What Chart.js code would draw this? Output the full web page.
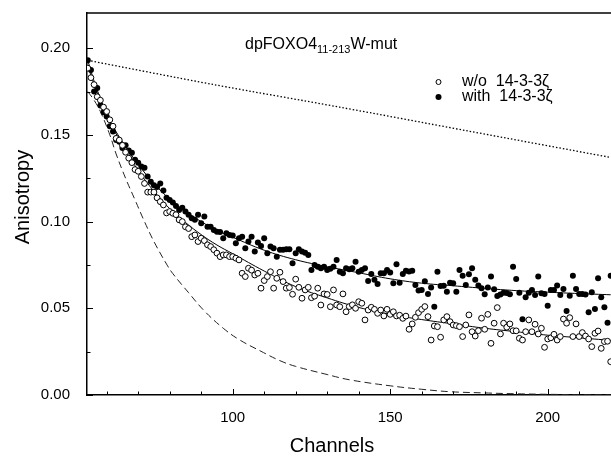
<!DOCTYPE html>
<html>
<head>
<meta charset="utf-8">
<title>dpFOXO4 anisotropy decay</title>
<script src="https://cdn.jsdelivr.net/npm/chart.js@4.4.1/dist/chart.umd.min.js"></script>
<style>
    html, body { margin: 0; padding: 0; background: #fff; }
</style>
</head>
<body>
<canvas id="anisotropy-chart" width="611" height="457"></canvas>
<script>
// Channel of the first measured point, one point per channel after it
const firstChannel = 54;

// w/o 14-3-3zeta (open circles), channels 54..220
const withoutValues = [
    0.1885, 0.183, 0.179, 0.172, 0.170, 0.166, 0.1635, 0.1587, 0.155, 0.148,
    0.147, 0.144, 0.140, 0.1366, 0.134, 0.130, 0.129, 0.126, 0.122, 0.117,
    0.117, 0.117, 0.1137, 0.1115, 0.1096, 0.105, 0.1058, 0.1048, 0.104, 0.101,
    0.100, 0.097, 0.096, 0.0913, 0.0923, 0.0885, 0.0904, 0.089, 0.0866, 0.0856,
    0.0838, 0.0818, 0.0798, 0.0808, 0.0808, 0.0798, 0.0798, 0.0789, 0.0779, 0.0702,
    0.0683, 0.0731, 0.072, 0.0692, 0.0702, 0.0616, 0.066, 0.0683, 0.0711, 0.0616,
    0.0673, 0.0708, 0.0654, 0.0616, 0.062, 0.0581, 0.0668, 0.0621, 0.0558, 0.0606,
    0.0621, 0.0561, 0.057, 0.0616, 0.0519, 0.0583, 0.058, 0.0509, 0.0606, 0.0519,
    0.0509, 0.0583, 0.048, 0.051, 0.052, 0.050, 0.0538, 0.0529, 0.0433, 0.049,
    0.0506, 0.0494, 0.0471, 0.049, 0.0456, 0.0494, 0.0465, 0.048, 0.0456, 0.046,
    0.0442, 0.0455, 0.0379, 0.041, 0.0448, 0.0475, 0.0494, 0.051, 0.0452, 0.0317,
    0.0398, 0.0394, 0.0333, 0.0433, 0.0452, 0.0423, 0.0404, 0.040, 0.0394, 0.0337,
    0.0404, 0.0462, 0.0365, 0.034, 0.0371, 0.0443, 0.0379, 0.0465, 0.0298, 0.0414,
    0.0504, 0.0352, 0.0414, 0.0391, 0.041, 0.0371, 0.037, 0.0327, 0.0317, 0.0365,
    0.0433, 0.0365, 0.0408, 0.0352, 0.0385, 0.0275, 0.0323, 0.033, 0.035, 0.0317,
    0.0337, 0.0438, 0.0414, 0.0446, 0.0337, 0.041, 0.0337, 0.036, 0.034, 0.0323,
    0.0279, 0.0356, 0.0369, 0.0269, 0.0308, 0.031, 0.0192
];

// with 14-3-3zeta (filled circles), channels 54..220
const withValues = [
    0.193, 0.1875, 0.175, 0.177, 0.167, 0.163, 0.1606, 0.155, 0.152, 0.147,
    0.146, 0.1425, 0.144, 0.141, 0.1397, 0.1356, 0.134, 0.1318, 0.131, 0.126,
    0.123, 0.121, 0.120, 0.122, 0.118, 0.1137, 0.1125, 0.111, 0.109, 0.1067,
    0.108, 0.1058, 0.104, 0.102, 0.101, 0.104, 0.099, 0.103, 0.097, 0.097,
    0.0952, 0.0942, 0.094, 0.0904, 0.0933, 0.0923, 0.092, 0.0875, 0.0904, 0.0913,
    0.0846, 0.0885, 0.0913, 0.0827, 0.088, 0.086, 0.0904, 0.0818, 0.0856, 0.0846,
    0.0798, 0.0837, 0.0837, 0.084, 0.0841, 0.076, 0.0818, 0.0841, 0.0827, 0.082,
    0.0808, 0.0721, 0.075, 0.074, 0.0731, 0.074, 0.0721, 0.0728, 0.074, 0.0779,
    0.0711, 0.0702, 0.0731, 0.0725, 0.0731, 0.0769, 0.0711, 0.0721, 0.0731, 0.0658,
    0.0698, 0.0664, 0.064, 0.0702, 0.0702, 0.0721, 0.0706, 0.0644, 0.0754, 0.0648,
    0.0698, 0.0716, 0.0712, 0.0716, 0.0635, 0.0602, 0.0606, 0.0656, 0.0583, 0.062,
    0.0509, 0.0711, 0.0629, 0.063, 0.0596, 0.0648, 0.0645, 0.0596, 0.0721, 0.0687,
    0.0635, 0.0696, 0.0731, 0.0664, 0.0631, 0.0616, 0.0581, 0.062, 0.0683, 0.061,
    0.0571, 0.058, 0.059, 0.0588, 0.0581, 0.074, 0.0669, 0.059, 0.0437, 0.0564,
    0.059, 0.0606, 0.0577, 0.0683, 0.0587, 0.0583, 0.0515, 0.0606, 0.0606, 0.0631,
    0.0577, 0.0612, 0.0485, 0.0573, 0.0687, 0.0612, 0.0583, 0.0583, 0.058, 0.0477,
    0.0593, 0.0496, 0.0673, 0.0564, 0.0506, 0.0417, 0.0687
];

// Fitted curves (solid)
const fitChannels = [54, 56, 58, 60, 62, 65, 70, 75, 80, 85, 90, 95, 100, 110, 120, 130, 140, 150, 160, 170, 180, 190, 200, 210, 220];
const withFit = [0.193, 0.181, 0.171, 0.162, 0.155, 0.146, 0.133, 0.122, 0.113, 0.106, 0.100, 0.095, 0.091, 0.0835, 0.078, 0.074, 0.0705, 0.067, 0.0645, 0.063, 0.0615, 0.0602, 0.0593, 0.0585, 0.0578];
const withoutFit = [0.19, 0.179, 0.170, 0.161, 0.154, 0.144, 0.1295, 0.1175, 0.1075, 0.0995, 0.0925, 0.0865, 0.0815, 0.0715, 0.0625, 0.056, 0.0505, 0.0465, 0.0435, 0.041, 0.0385, 0.0365, 0.0345, 0.033, 0.0315];

// Dashed curve
const dashedChannels = [54, 56, 58, 61, 63, 66, 69, 72, 75, 79, 81, 86, 91, 97, 102, 109, 115, 120, 130, 137, 150, 160, 169, 180, 190, 200, 210, 220];
const dashedValues = [0.175, 0.170, 0.1635, 0.150, 0.139, 0.125, 0.1125, 0.100, 0.0885, 0.0755, 0.070, 0.059, 0.0485, 0.0385, 0.032, 0.0252, 0.0198, 0.0165, 0.0118, 0.0088, 0.0053, 0.0033, 0.0019, 0.0012, 0.0007, 0.0004, 0.0002, 0.0001];

// Dotted line
const dottedChannels = [54, 94, 134, 174, 220];
const dottedValues = [0.193, 0.179, 0.166, 0.1525, 0.137];

// Axes
const xTicks = [100, 150, 200];
const xMinorTicks = [60, 70, 80, 90, 110, 120, 130, 140, 160, 170, 180, 190, 210, 220];
const yTicks = [0.00, 0.05, 0.10, 0.15, 0.20];
const yMinorTicks = [0.025, 0.075, 0.125, 0.175];

const FONT = "'Liberation Sans', Arial, sans-serif";

const toPoints = (channels, values) => values.map((v, i) => ({ x: channels[i], y: v }));
const seriesPoints = (values) => values.map((v, i) => ({ x: firstChannel + i, y: v }));

// Ticks inside the frame, top border, titles and legend
const decorations = {
    id: "decorations",
    afterDraw(chart) {
        const { ctx, chartArea: a, scales: { x, y } } = chart;
        ctx.save();
        ctx.strokeStyle = "#000";
        ctx.lineWidth = 1.5;
        ctx.beginPath();
        ctx.moveTo(a.left - 0.75, a.top);
        ctx.lineTo(a.right, a.top);
        ctx.stroke();

        ctx.lineWidth = 1;
        ctx.beginPath();
        xTicks.forEach(v => {
            const px = Math.round(x.getPixelForValue(v)) + 0.5;
            ctx.moveTo(px, a.bottom); ctx.lineTo(px, a.bottom - 6);
        });
        xMinorTicks.forEach(v => {
            const px = Math.round(x.getPixelForValue(v)) + 0.5;
            ctx.moveTo(px, a.bottom); ctx.lineTo(px, a.bottom - 3.5);
        });
        yTicks.forEach(v => {
            const py = Math.round(y.getPixelForValue(v)) + 0.5;
            ctx.moveTo(a.left, py); ctx.lineTo(a.left + 6, py);
        });
        yMinorTicks.forEach(v => {
            const py = Math.round(y.getPixelForValue(v)) + 0.5;
            ctx.moveTo(a.left, py); ctx.lineTo(a.left + 3.5, py);
        });
        ctx.stroke();

        // Axis titles
        ctx.fillStyle = "#000";
        ctx.font = `20px ${FONT}`;
        ctx.textAlign = "center";
        ctx.textBaseline = "middle";
        ctx.fillText("Channels", 332, 446);
        ctx.save();
        ctx.translate(23, 197);
        ctx.rotate(-Math.PI / 2);
        ctx.fillText("Anisotropy", 0, 0);
        ctx.restore();

        // Sample label with subscript
        ctx.textAlign = "left";
        ctx.textBaseline = "alphabetic";
        let tx = 245;
        ctx.font = `16px ${FONT}`;
        ctx.fillText("dpFOXO4", tx, 49);
        tx += ctx.measureText("dpFOXO4").width;
        ctx.font = `11px ${FONT}`;
        ctx.fillText("11-213", tx, 53);
        tx += ctx.measureText("11-213").width;
        ctx.font = `16px ${FONT}`;
        ctx.fillText("W-mut", tx, 49);

        // Legend
        ctx.font = `16px ${FONT}`;
        ctx.textBaseline = "middle";
        ctx.fillText("w/o  14-3-3\u03B6", 462, 82);
        ctx.fillText("with  14-3-3\u03B6", 462, 97);
        ctx.lineWidth = 1;
        ctx.beginPath();
        ctx.arc(438.5, 82, 2.5, 0, Math.PI * 2);
        ctx.fillStyle = "#fff";
        ctx.fill();
        ctx.stroke();
        ctx.beginPath();
        ctx.arc(438.5, 97, 3, 0, Math.PI * 2);
        ctx.fillStyle = "#000";
        ctx.fill();
        ctx.restore();
    }
};

const ctx = document.getElementById("anisotropy-chart").getContext("2d");

new Chart(ctx, {
    type: "scatter",
    data: {
        datasets: [
            {
                label: "w/o 14-3-3\u03B6",
                data: seriesPoints(withoutValues),
                pointRadius: 2.9,
                pointHoverRadius: 0,
                pointBackgroundColor: "#fff",
                pointBorderColor: "#000",
                pointBorderWidth: 1,
                showLine: false
            },
            {
                label: "with 14-3-3\u03B6",
                data: seriesPoints(withValues),
                pointRadius: 3,
                pointHoverRadius: 0,
                pointBackgroundColor: "#000",
                pointBorderColor: "#000",
                pointBorderWidth: 0,
                showLine: false
            },
            {
                label: "fit with",
                data: toPoints(fitChannels, withFit),
                showLine: true,
                pointRadius: 0,
                pointHoverRadius: 0,
                borderColor: "#000",
                borderWidth: 1,
                tension: 0.4
            },
            {
                label: "fit w/o",
                data: toPoints(fitChannels, withoutFit),
                showLine: true,
                pointRadius: 0,
                pointHoverRadius: 0,
                borderColor: "#000",
                borderWidth: 1,
                tension: 0.4
            },
            {
                label: "dashed",
                data: toPoints(dashedChannels, dashedValues),
                showLine: true,
                pointRadius: 0,
                pointHoverRadius: 0,
                borderColor: "#222",
                borderWidth: 1,
                borderDash: [7, 4],
                tension: 0.4
            },
            {
                label: "dotted",
                data: toPoints(dottedChannels, dottedValues),
                showLine: true,
                pointRadius: 0,
                pointHoverRadius: 0,
                borderColor: "#000",
                borderWidth: 1.3,
                borderDash: [1.5, 2],
                tension: 0.3
            }
        ]
    },
    options: {
        responsive: false,
        animation: false,
        layout: {
            autoPadding: false,
            padding: { left: 0, right: 0, top: 13, bottom: 0 }
        },
        scales: {
            x: {
                type: "linear",
                min: 53.75,
                max: 220.1,
                afterBuildTicks: scale => { scale.ticks = xTicks.map(v => ({ value: v })); },
                afterFit: scale => {
                    scale.height = 62;
                    scale.paddingLeft = 0;
                    scale.paddingRight = 0;
                },
                grid: { display: false, drawTicks: false },
                border: { display: true, color: "#000", width: 1.5 },
                ticks: {
                    color: "#000",
                    font: { family: FONT, size: 15 },
                    padding: 14,
                    maxRotation: 0,
                    callback: v => String(v)
                }
            },
            y: {
                type: "linear",
                min: 0,
                max: 0.2203,
                afterBuildTicks: scale => { scale.ticks = yTicks.map(v => ({ value: v })); },
                afterFit: scale => {
                    scale.width = 87;
                    scale.paddingTop = 0;
                    scale.paddingBottom = 0;
                },
                grid: { display: false, drawTicks: false },
                border: { display: true, color: "#000", width: 1.5 },
                ticks: {
                    color: "#000",
                    font: { family: FONT, size: 15 },
                    padding: 17,
                    callback: v => Number(v).toFixed(2)
                }
            }
        },
        plugins: {
            legend: { display: false },
            tooltip: { enabled: false }
        }
    },
    plugins: [decorations]
});
</script>
</body>
</html>
